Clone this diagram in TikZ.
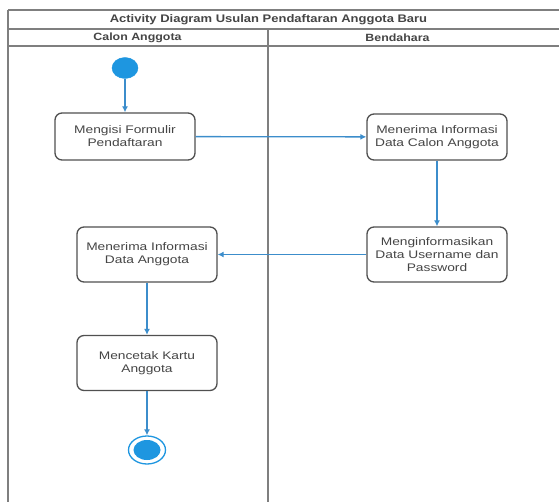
\documentclass[tikz,border=0pt]{standalone}
\usepackage{fontspec}
\setmainfont{Liberation Sans}
\newfontfamily\wideface[FakeStretch=1.18]{Liberation Sans}
\newfontfamily\widerface[FakeStretch=1.25]{Liberation Sans}
\usetikzlibrary{shapes.geometric,arrows.meta}
\definecolor{umlblue}{HTML}{1E96E0}
\definecolor{lineblue}{HTML}{3C8DCB}
\definecolor{framegray}{HTML}{7F7F7F}
\definecolor{boxgray}{HTML}{505050}
\definecolor{txtgray}{HTML}{454545}
\tikzset{
  actbox/.style={draw=boxgray, line width=1.3pt, rounded corners=7pt, fill=white,
    minimum width=140pt, align=center, text=txtgray,
    font=\widerface\fontsize{11pt}{13pt}\selectfont, inner sep=2pt},
  flow/.style={draw=lineblue, line width=1.3pt, -{Latex[length=6pt,width=6pt]}},
  frameline/.style={draw=framegray, line width=1.4pt},
  headtxt/.style={text=txtgray, font=\wideface\bfseries\fontsize{10.5pt}{12pt}\selectfont, inner sep=0pt},
  startdot/.style={ellipse, fill=umlblue, draw=umlblue, minimum width=26pt, minimum height=21pt, inner sep=0pt},
}
\begin{document}
\begin{tikzpicture}[x=1pt,y=-1pt]
\useasboundingbox (0,0) rectangle (559,502);
\begin{scope}
\clip (0,0) rectangle (559,502);
\draw[frameline] (8,10) -- (570,10);
\draw[frameline] (8,29) -- (570,29);
\draw[frameline] (8,46) -- (570,46);
\draw[frameline] (8,10) -- (8,520);
\draw[frameline] (268,29) -- (268,520);
\end{scope}
\node[headtxt, font=\wideface\bfseries\fontsize{11pt}{12pt}\selectfont] (title) at (268.5,19.5) {Activity Diagram Usulan Pendaftaran Anggota Baru};
\node[headtxt] (laneA) at (137.5,37.5) {Calon Anggota};
\node[headtxt] (laneB) at (397.5,37.5) {Bendahara};

\node[startdot] (start) at (125,68) {};
\node[actbox, minimum height=47pt] (b1) at (125,136.5) {Mengisi Formulir\\Pendaftaran};
\node[actbox, minimum height=46pt] (b2) at (437,137) {Menerima Informasi\\Data Calon Anggota};
\node[actbox, minimum height=55pt] (b3) at (437,254.5) {Menginformasikan\\Data Username dan\\Password};
\node[actbox, minimum height=55pt] (b4) at (147,254.5) {Menerima Informasi\\Data Anggota};
\node[actbox, minimum height=55pt] (b5) at (147,363) {Mencetak Kartu\\Anggota};
\node[ellipse, draw=umlblue, line width=1.3pt, fill=white, minimum width=37pt, minimum height=28pt, inner sep=0pt] (end) at (147,450) {};
\node[ellipse, fill=umlblue, minimum width=27pt, minimum height=20pt, inner sep=0pt] (endin) at (147,450) {};

\draw[flow] (start) -- (b1);
\draw[flow] (b1) -- (b2);
\draw[flow] (b2) -- (b3);
\draw[flow] (b3) -- (b4);
\draw[flow] (b4) -- (b5);
\draw[flow] (b5) -- (end);
\end{tikzpicture}
\end{document}
